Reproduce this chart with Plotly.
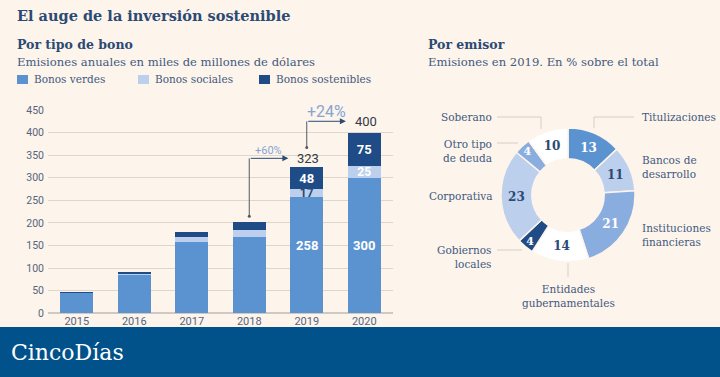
import plotly.graph_objects as go

# ---------------- data ----------------
years = ["2015", "2016", "2017", "2018", "2019", "2020"]
verdes = [46, 85, 158, 170, 258, 300]
sociales = [0, 1, 11, 14, 17, 25]
sostenibles = [1, 6, 10, 18, 48, 75]
y_ticks = [0, 50, 100, 150, 200, 250, 300, 350, 400, 450]

emisores = ["Titulizaciones", "Bancos de desarrollo", "Instituciones financieras",
            "Entidades gubernamentales", "Gobiernos locales", "Corporativa",
            "Otro tipo de deuda", "Soberano"]
emisor_pct = [13, 11, 21, 14, 4, 23, 4, 10]

# ---------------- style ----------------
W, H = 720, 377
BG = "#fdf4eb"
C_VERDE = "#5b93d1"
C_SOCIAL = "#bccfec"
C_SOST = "#1f4b86"
C_MID = "#8aaddf"
TITLE_C = "#2b4a74"
TEXT_C = "#3f5a80"
SERIF = "DejaVu Serif"
SANS = "Roboto"
BANNER = "#01518b"
LINE_C = "#d6d0c9"
TICK_C = "#56647e"


def px(x):
    return x / W


def py(y):
    return 1 - y / H


totals = [v + s + t for v, s, t in zip(verdes, sociales, sostenibles)]
idx = list(range(len(years)))

shapes = []
annotations = []

fig = go.Figure()

lbl_social = [str(v) if i >= 4 else "" for i, v in enumerate(sociales)]
lbl_sost = [str(v) if i >= 4 else "" for i, v in enumerate(sostenibles)]

fig.add_trace(go.Bar(x=idx, y=verdes, name="Bonos verdes", marker_color=C_VERDE,
                     marker_line_width=0, showlegend=False))
fig.add_trace(go.Bar(x=idx, y=sociales, name="Bonos sociales", marker_color=C_SOCIAL,
                     marker_line_width=0, showlegend=False, text=lbl_social, textangle=0,
                     textposition="inside", insidetextanchor="middle", constraintext="none",
                     textfont=dict(family=SANS, size=12, color=["#2b4a74"] * 5 + ["#ffffff"], weight="bold")))
fig.add_trace(go.Bar(x=idx, y=sostenibles, name="Bonos sostenibles", marker_color=C_SOST,
                     marker_line_width=0, showlegend=False, text=lbl_sost, textangle=0,
                     textposition="inside", insidetextanchor="middle", constraintext="none",
                     textfont=dict(family=SANS, size=13, color="#ffffff", weight="bold")))

# labels for green segments (2019, 2020)
for i in (4, 5):
    annotations.append(dict(x=i, y=150, xref="x", yref="y", text=str(verdes[i]), showarrow=False,
                            font=dict(family=SANS, size=13, color="#ffffff", weight="bold")))

# growth connectors
dot_x, dot_y = [], []
for (a, b, y0_off, yh_off, lab_size, lab_dy) in [(3, 4, 13, 20, 11, 17), (4, 5, 44, 25, 16, 22)]:
    y0 = totals[a] + y0_off
    yh = totals[b] + yh_off
    dot_x.append(a)
    dot_y.append(y0)
    shapes.append(dict(type="line", xref="x", yref="y", x0=a, x1=a, y0=y0, y1=yh,
                       line=dict(color="#555a60", width=1)))
    annotations.append(dict(x=b - 0.32, y=yh, ax=a, ay=yh, xref="x", yref="y", axref="x", ayref="y",
                            showarrow=True, arrowhead=2, arrowsize=1.2, arrowwidth=1, arrowcolor="#2b4a74",
                            text=""))
    annotations.append(dict(x=b - 0.2, y=yh, xref="x", yref="y", text=str(totals[b]), showarrow=False,
                            xanchor="left", font=dict(family=SANS, size=13, color="#333a45")))
    pct = round((totals[b] / totals[a] - 1) * 100)
    annotations.append(dict(x=b - 0.66, y=yh + lab_dy, xref="x", yref="y", text=f"+{pct}%", showarrow=False,
                            font=dict(family=SANS, size=lab_size, color="#86a5d3")))

fig.add_trace(go.Scatter(x=dot_x, y=dot_y, mode="markers", marker=dict(size=3, color="#555a60"),
                         showlegend=False, hoverinfo="skip"))

# donut
pie_colors = [C_VERDE, C_SOCIAL, C_MID, "#ffffff", C_SOST, C_SOCIAL, C_MID, "#ffffff"]
pie_text_colors = ["#ffffff", TITLE_C, "#ffffff", TITLE_C, "#ffffff", TITLE_C, "#ffffff", TITLE_C]
fig.add_trace(go.Pie(labels=emisores, values=emisor_pct, sort=False, direction="clockwise",
                     rotation=0, hole=0.54, textinfo="value", insidetextorientation="horizontal",
                     textposition="inside",
                     marker=dict(colors=pie_colors, line=dict(color=BG, width=1.5)),
                     textfont=dict(family=SERIF, size=12, color=pie_text_colors, weight="bold"),
                     domain=dict(x=[px(501), px(635)], y=[py(262), py(128)]),
                     showlegend=False))

# banner
shapes.append(dict(type="rect", xref="paper", yref="paper", x0=0, x1=1, y0=0, y1=py(327),
                   fillcolor=BANNER, line=dict(width=0), layer="above"))
# legend squares
for x0, col in ((17, C_VERDE), (138, C_SOCIAL), (259, C_SOST)):
    shapes.append(dict(type="rect", xref="paper", yref="paper", x0=px(x0), x1=px(x0 + 11),
                       y0=py(84), y1=py(75), fillcolor=col, line=dict(width=0)))
# donut connectors (pixel paths)
conn = [
    [(497, 117), (541, 117), (541, 129)],   # Soberano
    [(594, 128), (594, 117), (634, 117)],   # Titulizaciones
    [(497, 143), (518, 143)],               # Otro tipo
    [(497, 250), (522, 250)],               # Gobiernos locales
    [(568, 263), (568, 277)],               # Entidades
]
for pts in conn:
    for (xa, ya), (xb, yb) in zip(pts[:-1], pts[1:]):
        shapes.append(dict(type="line", xref="paper", yref="paper", x0=px(xa), y0=py(ya),
                           x1=px(xb), y1=py(yb), line=dict(color=LINE_C, width=1)))


def txt(x, y, s, size=11, color=TEXT_C, family=SERIF, xanchor="left", weight="normal"):
    annotations.append(dict(x=px(x), y=py(y), xref="paper", yref="paper", text=s, showarrow=False,
                            xanchor=xanchor, yanchor="middle", align=xanchor if xanchor != "center" else "center",
                            borderpad=0,
                            font=dict(family=family, size=size, color=color, weight=weight)))


txt(16, 16, "El auge de la inversión sostenible", size=14.5, color=TITLE_C, weight="bold")
txt(16, 44, "Por tipo de bono", size=12.5, color=TITLE_C, weight="bold")
txt(16, 62, "Emisiones anuales en miles de millones de dólares", size=11.6, color=TEXT_C)
txt(33, 79, "Bonos verdes", size=10.5)
txt(154, 79, "Bonos sociales", size=10.5)
txt(275, 79, "Bonos sostenibles", size=10.5)
txt(427, 44, "Por emisor", size=12.5, color=TITLE_C, weight="bold")
txt(427, 62, "Emisiones en 2019. En % sobre el total", size=11.6, color=TEXT_C)

txt(493, 117, "Soberano", size=10.5, xanchor="right")
txt(641, 117, "Titulizaciones", size=10.5)
txt(493, 151, "Otro tipo<br>de deuda", size=10.5, xanchor="right")
txt(641, 167, "Bancos de<br>desarrollo", size=10.5)
txt(493, 196, "Corporativa", size=10.5, xanchor="right")
txt(641, 235, "Instituciones<br>financieras", size=10.5)
txt(493, 257, "Gobiernos<br>locales", size=10.5, xanchor="right")
txt(568, 296, "Entidades<br>gubernamentales", size=10.5, xanchor="center")

txt(10, 352, "CincoDías", size=22, color="#ffffff")

fig.update_layout(
    width=W, height=H, margin=dict(l=0, r=0, t=0, b=0, autoexpand=False),
    paper_bgcolor=BG, plot_bgcolor=BG,
    barmode="stack", bargap=0.43,
    shapes=shapes, annotations=annotations,
    xaxis=dict(domain=[px(48), px(393)], range=[-0.5, 5.5], tickvals=idx, ticktext=years,
               showgrid=False, zeroline=False, automargin=False,
               showline=False, ticks="", tickfont=dict(family=SANS, size=11, color=TICK_C)),
    yaxis=dict(domain=[py(313.3), py(110)], range=[0, 450], tickvals=y_ticks, automargin=False,
               showgrid=True, gridcolor="#dcd6cf", gridwidth=1, zeroline=True, zerolinecolor="#cfc9c2",
               ticks="", ticklabelstandoff=3, tickfont=dict(family=SANS, size=10.5, color=TICK_C)),
    font=dict(family=SERIF),
)

fig.write_html("out.html", config={"displayModeBar": False},
               post_script="document.body.style.margin='0px';document.body.style.overflow='hidden';")
